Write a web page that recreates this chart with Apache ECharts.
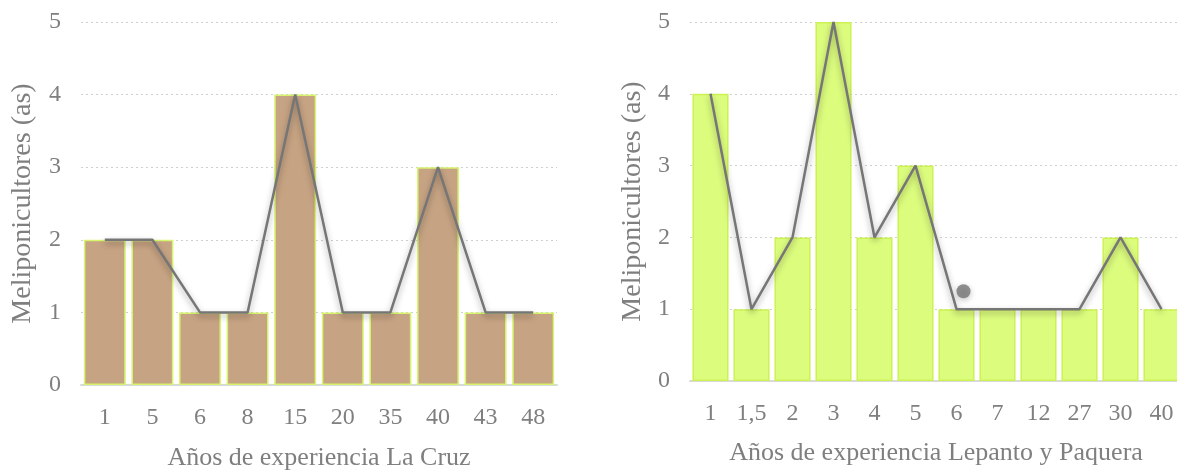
<!DOCTYPE html>
<html><head><meta charset="utf-8">
<script src="https://cdn.jsdelivr.net/npm/echarts@6/dist/echarts.min.js"></script>
<style>html,body{margin:0;padding:0;background:#fff}#c{width:1177px;height:472px}</style>
</head><body><div id="c"></div>
<script>
// Left panel: La Cruz
const catsCruz = ['1','5','6','8','15','20','35','40','43','48'];
const valsCruz = [2,2,1,1,4,1,1,3,1,1];
// Right panel: Lepanto y Paquera
const catsLep = ['1','1,5','2','3','4','5','6','7','12','27','30','40'];
const valsLep = [4,1,2,5,2,3,1,1,1,1,2,1];
// stray marker seen near category '6' on the right panel
const strayCat = '6';
const strayVal = 1.25;
const yTicks = [0,1,2,3,4,5];

const FONT = 'Liberation Serif';
const TXT = '#7f7f7f';
const chart = echarts.init(document.getElementById('c'), null, {renderer:'canvas'});

function xAxis(idx, cats, name, nameGap){
  return {type:'category', gridIndex:idx, data:cats, name:name, nameLocation:'middle', nameGap:nameGap,
    nameTextStyle:{fontFamily:FONT, fontSize:26, color:TXT},
    axisLine:{lineStyle:{color:'#d9d9d9', width:2}}, axisTick:{show:false},
    axisLabel:{fontFamily:FONT, fontSize:24, color:TXT, margin:21, interval:0}};
}
function yAxis(idx, nameGap){
  return {type:'value', gridIndex:idx, min:0, max:5, interval:1,
    name:'Meliponicultores (as)', nameLocation:'middle', nameGap:nameGap,
    nameTextStyle:{fontFamily:FONT, fontSize:28, color:TXT},
    axisLine:{show:false}, axisTick:{show:false},
    axisLabel:{fontFamily:FONT, fontSize:24, color:TXT, margin:20,
      formatter:v=>yTicks.includes(v)?String(v):''},
    splitLine:{lineStyle:{color:'#cfcfcf', type:[2,3], width:1}}};
}
const lineStyle = {color:'#767676', width:2.5, shadowColor:'rgba(0,0,0,0.35)', shadowBlur:6, shadowOffsetY:3};

chart.setOption({
  animation:false,
  grid:[
    {left:81, width:476, top:22, bottom:87, outerBoundsMode:'none', containLabel:false},
    {left:690, width:492, top:22, bottom:91, outerBoundsMode:'none', containLabel:false}
  ],
  xAxis:[xAxis(0,catsCruz,'Años de experiencia La Cruz',60), xAxis(1,catsLep,'Años de experiencia Lepanto y Paquera',59)],
  yAxis:[yAxis(0,44), yAxis(1,43)],
  series:[
    {type:'bar', xAxisIndex:0, yAxisIndex:0, data:valsCruz, barCategoryGap:'12%',
      itemStyle:{color:'#c6a383', borderColor:'#d6f56c', borderWidth:1.5}},
    {type:'line', xAxisIndex:0, yAxisIndex:0, data:valsCruz, symbol:'none', lineStyle:lineStyle},
    {type:'bar', xAxisIndex:1, yAxisIndex:1, data:valsLep, barCategoryGap:'12%',
      itemStyle:{color:'#dcfc7e', borderColor:'#cdf254', borderWidth:1.5}},
    {type:'line', xAxisIndex:1, yAxisIndex:1, data:valsLep, symbol:'none', lineStyle:lineStyle},
    {type:'scatter', xAxisIndex:1, yAxisIndex:1, data:[[strayCat, strayVal]], symbol:'circle', symbolSize:14,
      symbolOffset:[7,0], itemStyle:{color:'#767676', shadowColor:'rgba(0,0,0,0.3)', shadowBlur:6, shadowOffsetY:2}, z:5}
  ]
});
</script></body></html>
